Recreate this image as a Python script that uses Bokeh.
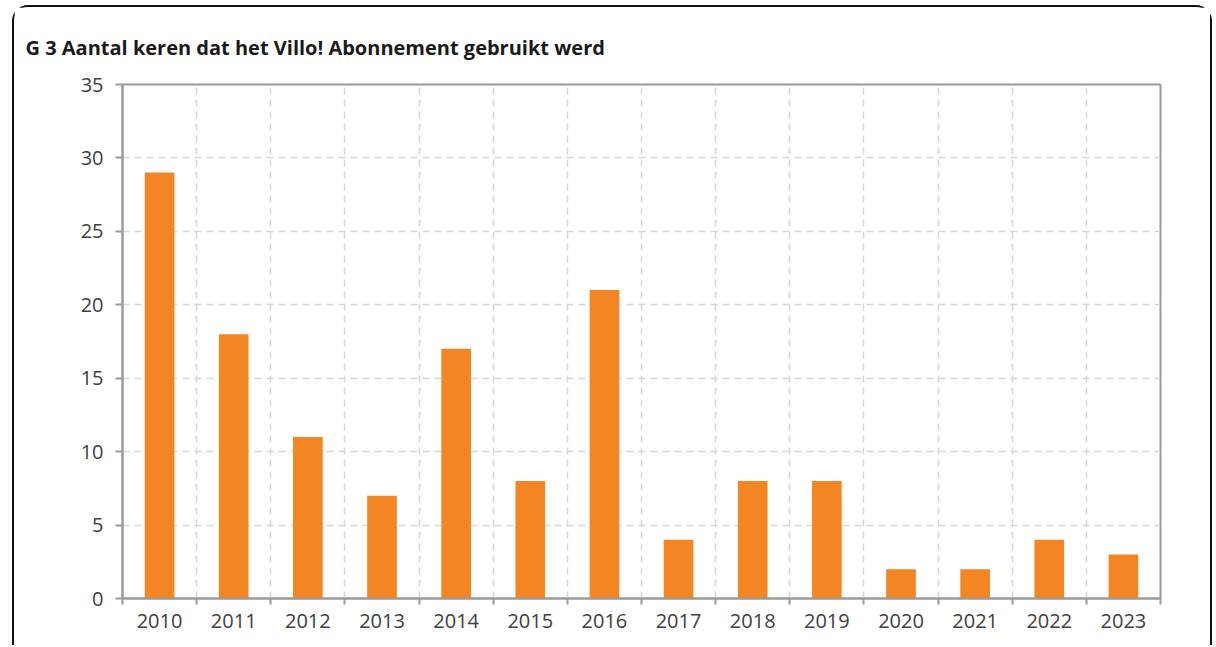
import numpy as np
from bokeh.plotting import figure
from bokeh.layouts import column
from bokeh.models import Range1d, FixedTicker, ColumnDataSource
from bokeh.embed import file_html
from bokeh.resources import INLINE

years = ["2010", "2011", "2012", "2013", "2014", "2015", "2016",
         "2017", "2018", "2019", "2020", "2021", "2022", "2023"]
counts = [29, 18, 11, 7, 17, 8, 21, 4, 8, 8, 2, 2, 4, 3]
y_ticks = [0, 5, 10, 15, 20, 25, 30, 35]
title_text = "G 3 Aantal keren dat het Villo! Abonnement gebruikt werd"

n = len(years)
centers = [i + 0.5 for i in range(n)]
bounds = list(range(n + 1))

src = ColumnDataSource(dict(x=centers, y=counts, year=years))

p = figure(width=1196, height=638, output_backend="svg", toolbar_location=None,
           x_range=Range1d(0, n), y_range=Range1d(0, 35),
           min_border_left=108, min_border_right=50, min_border_top=77,
           min_border_bottom=47, background_fill_color="white",
           border_fill_color="white")

p.vbar(x="x", top="y", width=0.4, source=src, color="#F38623", line_color=None)

# Title
p.title.text = title_text
p.title.align = "left"
p.title.offset = -97
p.title.standoff = 48
p.title.text_font = "Open Sans"
p.title.text_font_style = "bold"
p.title.text_font_size = "20px"
p.title.text_color = "#1a1a1a"

# Frame
p.outline_line_color = "#9a9a9a"
p.outline_line_width = 2

# X axis
xt = FixedTicker(ticks=centers, minor_ticks=bounds)
p.xaxis.ticker = xt
p.xaxis.major_label_overrides = {c: y for c, y in zip(centers, years)}
p.xaxis.major_tick_line_color = None
p.xaxis.minor_tick_line_color = "#9a9a9a"
p.xaxis.minor_tick_line_width = 2
p.xaxis.minor_tick_out = 6
p.xaxis.minor_tick_in = 0
p.xaxis.axis_line_color = "#9a9a9a"
p.xaxis.axis_line_width = 2
p.xaxis.major_label_text_font = "Open Sans"
p.xaxis.major_label_text_font_size = "20px"
p.xaxis.major_label_text_color = "#404040"
p.xaxis.major_label_standoff = 9

# Y axis
p.yaxis.ticker = FixedTicker(ticks=y_ticks)
p.yaxis.minor_tick_line_color = None
p.yaxis.major_tick_line_color = "#9a9a9a"
p.yaxis.major_tick_line_width = 2
p.yaxis.major_tick_out = 7
p.yaxis.major_tick_in = 0
p.yaxis.axis_line_color = "#9a9a9a"
p.yaxis.axis_line_width = 2
p.yaxis.major_label_text_font = "Open Sans"
p.yaxis.major_label_text_font_size = "20px"
p.yaxis.major_label_text_color = "#404040"
p.yaxis.major_label_standoff = 12

# Grid
p.xgrid.ticker = FixedTicker(ticks=bounds)
p.xgrid.grid_line_color = "#d6d6d6"
p.xgrid.grid_line_dash = "7 5"
p.xgrid.grid_line_width = 1.5
p.ygrid.grid_line_color = "#d6d6d6"
p.ygrid.grid_line_dash = "7 5"
p.ygrid.grid_line_width = 1.5

layout = column(p, styles={"border-top": "2px solid #111", "border-left": "2px solid #111",
                           "border-right": "2px solid #111",
                           "border-top-left-radius": "16px",
                           "border-top-right-radius": "16px",
                           "margin-left": "12px", "margin-top": "5px"})

open("out.html", "w").write(file_html(layout, INLINE))
